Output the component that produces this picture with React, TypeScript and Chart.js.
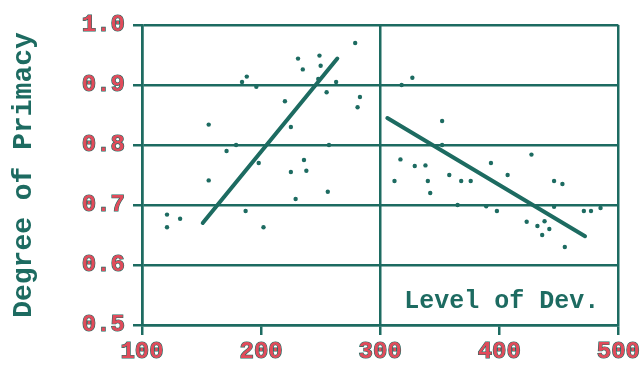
import React, { useEffect, useRef } from "react";
import { Chart, registerables } from "chart.js";

Chart.register(...registerables);

const TEAL = "#1d6b61";
const RED = "#e14b5b";

const xTicks = [100, 200, 300, 400, 500];
const yTicks = [0.5, 0.6, 0.7, 0.8, 0.9, 1.0];

const leftX = [121, 121, 132, 156, 156, 188, 184, 196, 171, 179, 198, 187, 202, 220, 225, 231, 235, 249, 250, 248, 255, 263, 279, 283, 281, 257, 225, 236, 238, 229, 256];
const leftY = [0.684, 0.663, 0.677, 0.834, 0.741, 0.914, 0.905, 0.897, 0.79, 0.8, 0.77, 0.69, 0.663, 0.873, 0.83, 0.944, 0.926, 0.949, 0.932, 0.91, 0.888, 0.905, 0.97, 0.88, 0.863, 0.8, 0.755, 0.775, 0.757, 0.71, 0.722];

const rightX = [327, 318, 352, 352, 317, 329, 338, 312, 340, 358, 368, 376, 393, 407, 427, 446, 453, 342, 365, 389, 398, 446, 423, 432, 438, 442, 436, 455, 471, 477, 485];
const rightY = [0.912, 0.9, 0.84, 0.8, 0.776, 0.765, 0.766, 0.74, 0.74, 0.75, 0.74, 0.74, 0.77, 0.75, 0.784, 0.74, 0.735, 0.72, 0.7, 0.698, 0.69, 0.697, 0.672, 0.665, 0.673, 0.66, 0.65, 0.63, 0.69, 0.69, 0.695];

const fitLeftX = [151, 264];
const fitLeftY = [0.67, 0.944];
const fitRightX = [306, 472];
const fitRightY = [0.845, 0.648];

const xTitle = "Level of Dev.";
const yTitle = "Degree of Primacy";
const xTitlePos = [484, 0.538];

const FONT = "'Liberation Mono', 'DejaVu Sans Mono', monospace";

const zip = (xs: number[], ys: number[]) => xs.map((x, i) => ({ x, y: ys[i] }));

const innerLabel = {
  id: "innerLabel",
  afterDatasetsDraw(chart: any) {
    const { ctx, scales } = chart;
    const px = scales.x.getPixelForValue(xTitlePos[0]);
    const py = scales.y.getPixelForValue(xTitlePos[1]);
    ctx.save();
    ctx.font = `bold 25px ${FONT}`;
    ctx.textAlign = "right";
    ctx.textBaseline = "middle";
    ctx.fillStyle = TEAL;
    ctx.fillText(xTitle, px, py);
    ctx.restore();
  },
};

export default function App() {
  const ref = useRef<HTMLCanvasElement>(null);
  useEffect(() => {
    if (!ref.current) return;
    const chart = new Chart(ref.current, {
      type: "scatter",
      data: {
        datasets: [
          {
            data: zip(leftX, leftY),
            pointRadius: 2.2,
            pointBackgroundColor: TEAL,
            pointBorderColor: TEAL,
            pointBorderWidth: 0,
          },
          {
            data: zip(rightX, rightY),
            pointRadius: 2.2,
            pointBackgroundColor: TEAL,
            pointBorderColor: TEAL,
            pointBorderWidth: 0,
          },
          {
            data: zip(fitLeftX, fitLeftY),
            showLine: true,
            borderColor: TEAL,
            borderWidth: 4,
            pointRadius: 0,
            borderCapStyle: "round",
          },
          {
            data: zip(fitRightX, fitRightY),
            showLine: true,
            borderColor: TEAL,
            borderWidth: 4,
            pointRadius: 0,
            borderCapStyle: "round",
          },
        ],
      },
      options: {
        animation: false,
        responsive: false,
        devicePixelRatio: 1,
        layout: { padding: { top: 25, right: 23, left: 0, bottom: 0 } },
        plugins: { legend: { display: false }, tooltip: { enabled: false } },
        scales: {
          x: {
            type: "linear",
            min: 100,
            max: 500,
            afterBuildTicks: (s: any) => {
              s.ticks = xTicks.map((v) => ({ value: v }));
            },
            afterFit: (s: any) => {
              s.height = 47;
            },
            ticks: {
              color: RED,
              textStrokeColor: TEAL,
              textStrokeWidth: 1.2,
              padding: 3,
              font: { family: FONT, size: 24, weight: "bold" },
              maxRotation: 0,
            },
            grid: {
              color: (c: any) =>
                c.tick && (c.tick.value === 200 || c.tick.value === 400) ? "rgba(0,0,0,0)" : TEAL,
              tickColor: TEAL,
              lineWidth: 2.5,
              tickLength: 10,
            },
            border: { color: TEAL, width: 2.5 },
          },
          y: {
            type: "linear",
            min: 0.5,
            max: 1.0,
            afterBuildTicks: (s: any) => {
              s.ticks = yTicks.map((v) => ({ value: v }));
            },
            afterFit: (s: any) => {
              s.width = 142;
            },
            ticks: {
              color: RED,
              textStrokeColor: TEAL,
              textStrokeWidth: 1.2,
              padding: 8,
              font: { family: FONT, size: 24, weight: "bold" },
              callback: (v: any) => Number(v).toFixed(1),
            },
            grid: {
              color: TEAL,
              lineWidth: 2.5,
              tickLength: 9,
            },
            border: { color: TEAL, width: 2.5 },
            title: {
              display: true,
              text: yTitle,
              color: TEAL,
              font: { family: FONT, size: 28, weight: "bold", lineHeight: 1 },
              padding: { top: 10, bottom: 0 },
            },
          },
        },
      },
      plugins: [innerLabel],
    } as any);
    return () => chart.destroy();
  }, []);
  return (
    <div style={{ position: "fixed", left: 0, top: 0, width: 643, height: 372, background: "#fff" }}>
      <canvas ref={ref} width={643} height={372} style={{ display: "block" }} />
    </div>
  );
}
